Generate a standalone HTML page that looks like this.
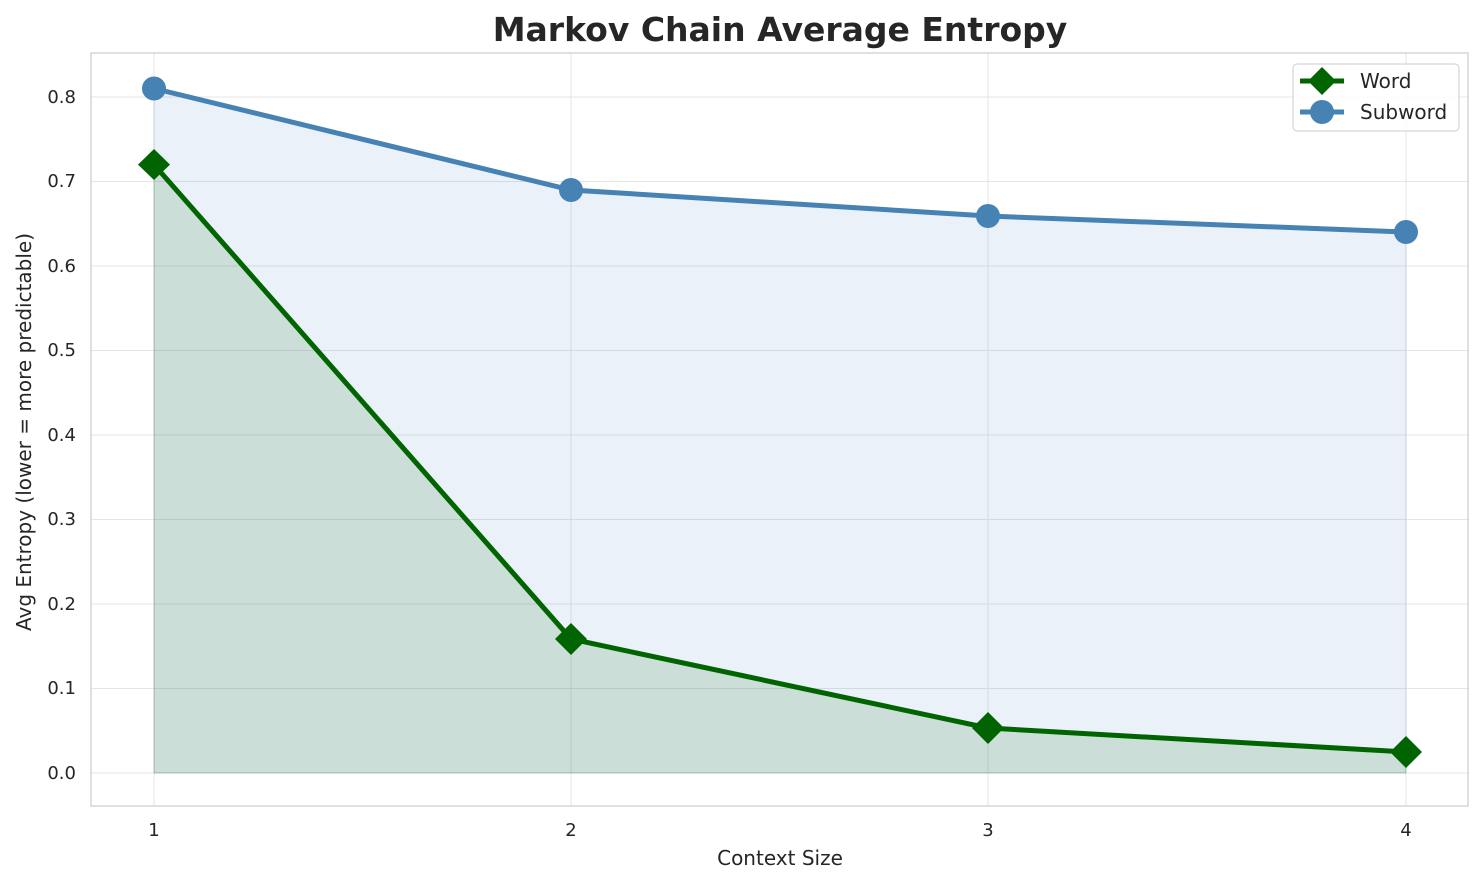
<!DOCTYPE html>
<html><head><meta charset="utf-8"><style>
body{margin:0;background:#fff;}
svg{display:block;font-family:"DejaVu Sans","Liberation Sans",sans-serif;}
</style></head><body>
<svg width="1484" height="885" viewBox="0 0 1484 885">
<rect x="0" y="0" width="1484" height="885" fill="#fff"/>
<g stroke="#e5e5e5" stroke-width="1">
<line x1="91" y1="773" x2="1468" y2="773"/>
<line x1="91" y1="688.5" x2="1468" y2="688.5"/>
<line x1="91" y1="604" x2="1468" y2="604"/>
<line x1="91" y1="519.5" x2="1468" y2="519.5"/>
<line x1="91" y1="435" x2="1468" y2="435"/>
<line x1="91" y1="350.5" x2="1468" y2="350.5"/>
<line x1="91" y1="266" x2="1468" y2="266"/>
<line x1="91" y1="181.5" x2="1468" y2="181.5"/>
<line x1="91" y1="97" x2="1468" y2="97"/>
<line x1="154" y1="53" x2="154" y2="806"/>
<line x1="571" y1="53" x2="571" y2="806"/>
<line x1="988" y1="53" x2="988" y2="806"/>
<line x1="1406" y1="53" x2="1406" y2="806"/>
</g>
<polygon points="154,88.5 571,190 988,216 1406,232 1406,773 154,773" fill="#4a7dc8" fill-opacity="0.11" stroke="#4682b4" stroke-opacity="0.15"/>
<polygon points="154,164.6 571,639 988,728 1406,752 1406,773 154,773" fill="#006400" fill-opacity="0.13" stroke="#006400" stroke-opacity="0.15"/>
<rect x="91" y="53" width="1377" height="753" fill="none" stroke="#cccccc" stroke-width="1.2"/>
<polyline points="154,88.5 571,190 988,216 1406,232" fill="none" stroke="#4682b4" stroke-width="5"/>
<g fill="#4682b4"><circle cx="154" cy="88.5" r="12"/><circle cx="571" cy="190" r="12"/><circle cx="988" cy="216" r="12"/><circle cx="1406" cy="232" r="12"/></g>
<polyline points="154,164.6 571,639 988,728 1406,752" fill="none" stroke="#006400" stroke-width="5"/>
<g fill="#006400">
<polygon points="154,149 170,164.6 154,180 138,164.6"/>
<polygon points="571,623 587,639 571,655 555,639"/>
<polygon points="988,712 1004,728 988,744 972,728"/>
<polygon points="1406,736 1422,752 1406,768 1390,752"/>
</g>
<g font-size="18" fill="#262626" text-anchor="end">
<text x="76" y="779">0.0</text><text x="76" y="694">0.1</text><text x="76" y="610">0.2</text>
<text x="76" y="525">0.3</text><text x="76" y="441">0.4</text><text x="76" y="356">0.5</text>
<text x="76" y="272">0.6</text><text x="76" y="187">0.7</text><text x="76" y="103">0.8</text>
</g>
<g font-size="18" fill="#262626" text-anchor="middle">
<text x="154" y="836">1</text><text x="571" y="836">2</text><text x="988" y="836">3</text><text x="1406" y="836">4</text>
<text x="780" y="865" font-size="20">Context Size</text>
</g>
<text x="31" y="432" font-size="20" fill="#262626" text-anchor="middle" transform="rotate(-90 31 432)">Avg Entropy (lower = more predictable)</text>
<text x="780" y="41" font-size="33" font-weight="bold" fill="#262626" text-anchor="middle">Markov Chain Average Entropy</text>
<rect x="1293" y="64" width="166" height="67" rx="4" fill="#fff" fill-opacity="0.85" stroke="#cccccc"/>
<line x1="1300" y1="81" x2="1344" y2="81" stroke="#006400" stroke-width="5"/>
<polygon points="1322,67 1336,81 1322,95 1308,81" fill="#006400"/>
<text x="1360" y="88" font-size="20" fill="#262626">Word</text>
<line x1="1300" y1="112" x2="1344" y2="112" stroke="#4682b4" stroke-width="5"/>
<circle cx="1322" cy="112" r="12" fill="#4682b4"/>
<text x="1360" y="119" font-size="20" fill="#262626">Subword</text>
</svg>
</body></html>
